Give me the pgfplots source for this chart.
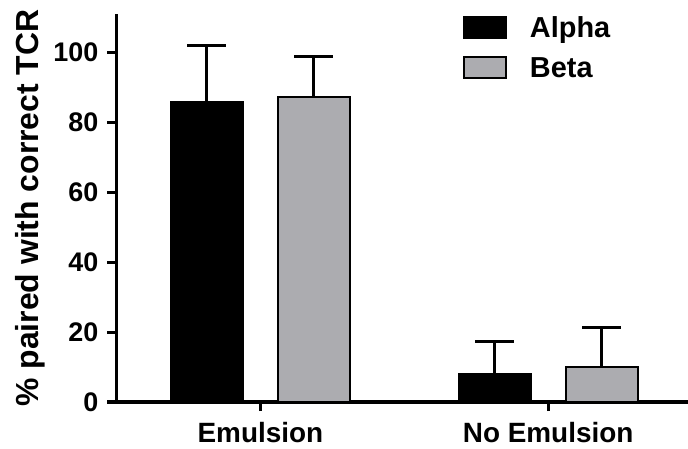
\documentclass[border=0pt]{standalone}
\usepackage{fontspec}
\setmainfont{Liberation Sans}
\usepackage{pgfplots}
\pgfplotsset{compat=1.18}
\definecolor{barGray}{RGB}{172,172,176}
\begin{document}
\begin{tikzpicture}
\useasboundingbox (-116.5bp,-47bp) rectangle (571.5bp,402bp);
\begin{axis}[
  at={(0,0)}, anchor=south west,
  scale only axis, width=571.5bp, height=388bp,
  xmin=-0.5, xmax=1.486, ymin=0, ymax=111,
  ybar, bar width=0.25,
  axis x line*=bottom, axis y line*=left,
  axis line style={line width=3bp, -},
  every tick/.style={black, line width=3bp},
  major tick length=9bp, tick align=outside,
  xtick={0,1}, xticklabels={Emulsion, No Emulsion},
  ytick={0,20,40,60,80,100},
  /pgf/number format/assume math mode=true,
  yticklabel style={font=\fontsize{27}{30}\selectfont\bfseries, inner sep=0pt, xshift=-9bp},
  xticklabel style={font=\fontsize{28}{30}\selectfont\bfseries, inner sep=0pt, text height=20bp, text depth=6bp, yshift=-11bp},
  ylabel={\% paired with correct TCR},
  ylabel style={font=\fontsize{32}{36}\selectfont\bfseries, at={([xshift=-77.5bp]axis description cs:0,0.5)}, anchor=base, inner sep=0pt},
  legend image code/.code={\draw[#1] (0bp,-8bp) rectangle (42bp,13bp);},
  legend style={draw=none, fill=none, inner sep=0pt, outer sep=0pt,
    at={(axis cs:0.704,110.4)}, anchor=north west,
    font=\fontsize{29}{32}\selectfont\bfseries,
    nodes={inner sep=0pt, text height=21bp, text depth=6bp},
    row sep=12bp, column sep=23bp},
  legend cell align=left,
]
\addplot[bar shift=-0.186, fill=black, draw=black, line width=2bp,
  error bars/.cd, y dir=plus, y explicit,
  error bar style={line width=3bp, black},
  error mark options={rotate=90, line width=3bp, mark size=19.5bp, black}]
  coordinates {(0,85.8) +- (0,16.2) (1,8.0) +- (0,9.3)};
\addlegendentry{Alpha}
\addplot[bar shift=0.186, fill=barGray, draw=black, line width=2bp,
  error bars/.cd, y dir=plus, y explicit,
  error bar style={line width=3bp, black},
  error mark options={rotate=90, line width=3bp, mark size=19.5bp, black}]
  coordinates {(0,87.2) +- (0,11.7) (1,10.1) +- (0,11.3)};
\addlegendentry{Beta}
\end{axis}
\end{tikzpicture}
\end{document}
